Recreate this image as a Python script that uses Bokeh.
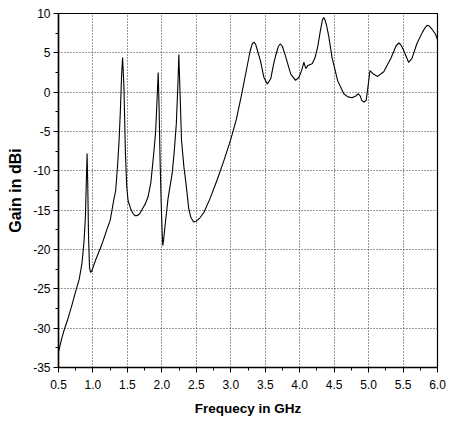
from bokeh.plotting import figure
from bokeh.models import Range1d, SingleIntervalTicker, NumeralTickFormatter
from bokeh.embed import file_html
from bokeh.resources import INLINE

# Measured antenna gain versus frequency
freq_ghz = [
    0.50, 0.55, 0.58, 0.63, 0.70, 0.75, 0.80, 0.84, 0.87, 0.89,
    0.905, 0.915, 0.925, 0.935, 0.95, 0.965, 0.98, 1.00, 1.04, 1.10,
    1.14, 1.20, 1.25, 1.30, 1.33, 1.36, 1.38, 1.40, 1.415, 1.43,
    1.44, 1.45, 1.47, 1.49, 1.51, 1.55, 1.58, 1.61, 1.63, 1.66,
    1.69, 1.72, 1.76, 1.80, 1.84, 1.88, 1.91, 1.93, 1.947, 1.96,
    1.975, 1.99, 2.005, 2.014, 2.025, 2.05, 2.09, 2.15, 2.18, 2.21,
    2.235, 2.246, 2.26, 2.285, 2.32, 2.35, 2.39, 2.42, 2.46, 2.50,
    2.55, 2.61, 2.70, 2.80, 2.90, 3.00, 3.08, 3.15, 3.22, 3.28,
    3.31, 3.335, 3.36, 3.39, 3.43, 3.48, 3.53, 3.58, 3.62, 3.65,
    3.69, 3.72, 3.75, 3.79, 3.87, 3.94, 3.99, 4.03, 4.06, 4.09,
    4.12, 4.18, 4.22, 4.26, 4.30, 4.33, 4.35, 4.37, 4.39, 4.42,
    4.47, 4.55, 4.64, 4.70, 4.76, 4.82, 4.85, 4.88, 4.90, 4.93,
    4.965, 4.99, 5.02, 5.07, 5.13, 5.22, 5.32, 5.40, 5.44, 5.47,
    5.51, 5.58, 5.63, 5.70, 5.78, 5.82, 5.85, 5.88, 5.92, 5.97,
    6.00,
]
gain_dbi = [
    -33.0, -31.2, -30.3, -29.0, -26.9, -25.3, -23.8, -21.8, -19.0, -16.0,
    -11.0, -7.8, -12.0, -18.0, -22.3, -22.9, -22.8, -22.3, -21.3, -20.0,
    -19.1, -17.5, -16.3, -13.8, -12.5, -9.0, -6.0, -1.9, 2.0, 4.4,
    2.5, 0.5, -7.4, -12.0, -13.8, -14.9, -15.4, -15.7, -15.7, -15.6,
    -15.3, -14.8, -14.2, -13.3, -11.5, -8.0, -5.0, -1.0, 2.5, -2.0,
    -9.0, -14.0, -18.0, -19.5, -18.8, -16.7, -13.5, -10.3, -7.5, -4.0,
    1.5, 4.8, 1.0, -6.1, -9.5, -11.6, -14.8, -15.9, -16.5, -16.4,
    -16.0, -15.3, -13.5, -11.2, -8.7, -6.0, -3.5, -0.6, 2.5, 5.2,
    6.1, 6.35, 6.1, 5.2, 4.0, 1.9, 1.05, 1.7, 3.5, 4.6,
    5.8, 6.15, 5.8, 4.7, 2.3, 1.5, 1.9, 2.8, 3.8, 3.0,
    3.4, 3.6, 4.3, 5.7, 7.8, 9.2, 9.5, 9.1, 8.5, 7.2,
    4.4, 1.5, -0.2, -0.6, -0.7, -0.45, -0.2, -0.5, -1.05, -1.25,
    -1.05, 0.6, 2.75, 2.3, 2.0, 2.6, 4.25, 5.9, 6.25, 6.0,
    5.3, 3.8, 4.3, 6.15, 7.6, 8.2, 8.5, 8.4, 8.0, 7.4,
    6.7,
]

FONT = "Liberation Sans"

p = figure(
    width=449, height=422,
    frame_width=379, frame_height=354,
    min_border_left=58, min_border_top=13, min_border_right=12, min_border_bottom=55,
    x_range=Range1d(0.5, 6.0), y_range=Range1d(-35, 10),
    output_backend="svg", toolbar_location=None,
    background_fill_color="white", border_fill_color="white",
)

p.line(freq_ghz, gain_dbi, line_color="black", line_width=1.1)

p.xaxis.ticker = SingleIntervalTicker(interval=0.5, num_minor_ticks=2)
p.yaxis.ticker = SingleIntervalTicker(interval=5, num_minor_ticks=2)
p.xaxis.formatter = NumeralTickFormatter(format="0.0")
p.yaxis.formatter = NumeralTickFormatter(format="0")

p.xaxis.axis_label = "Frequecy in GHz"
p.yaxis.axis_label = "Gain in dBi"

for ax in (p.xaxis, p.yaxis):
    ax.axis_line_color = "black"
    ax.axis_line_width = 1.5
    ax.major_tick_line_color = "black"
    ax.minor_tick_line_color = "black"
    ax.major_tick_in = 0
    ax.major_tick_out = 5
    ax.minor_tick_in = 0
    ax.minor_tick_out = 3
    ax.major_label_text_font = FONT
    ax.major_label_text_font_size = "12px"
    ax.major_label_text_color = "black"
    ax.axis_label_text_font = FONT
    ax.axis_label_text_font_style = "bold"
    ax.axis_label_text_color = "black"

p.xaxis.axis_label_text_font_size = "13.5px"
p.yaxis.axis_label_text_font_size = "16px"

p.xaxis.major_label_standoff = 7
p.yaxis.major_label_standoff = 3
p.xaxis.axis_label_standoff = 9
p.yaxis.axis_label_standoff = 6

for g in (p.xgrid, p.ygrid):
    g.grid_line_color = "#333333"
    g.grid_line_dash = "1 2"
    g.grid_line_width = 1

p.outline_line_color = "black"
p.outline_line_width = 1.2

open("out.html", "w").write(file_html(p, INLINE))
